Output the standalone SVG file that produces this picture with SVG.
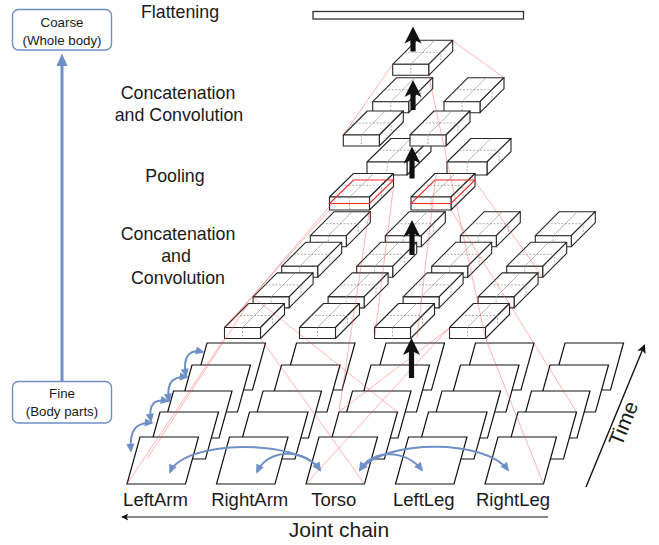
<svg xmlns="http://www.w3.org/2000/svg" xmlns:xlink="http://www.w3.org/1999/xlink" width="659" height="545" viewBox="0 0 659 545">
  <style>
    text { font-family: "Liberation Sans", Arial, sans-serif; fill: #1a1a1a; }
    .fr { fill: #fff; stroke: #111; stroke-width: 1.2; stroke-linejoin: miter; }
    .bx { fill: #fff; stroke: #262626; stroke-width: 1.1; stroke-linejoin: round; }
    .in { fill: none; stroke: #9a9a9a; stroke-width: 0.7; }
    .dn { fill: none; stroke: #8a8a8a; stroke-width: 0.7; stroke-dasharray: 2 1.5; }
    .rs { fill: none; stroke: #ee2a2a; stroke-width: 1.1; }
    .rl { fill: none; stroke: #ff4a4a; stroke-width: 0.7; opacity: 0.6; }
    .bl { fill: none; stroke: #6f90c6; stroke-width: 2; }
    .ba { fill: #111; }
    .lbl { font-size: 18.5px; text-anchor: middle; }
    .ttl { font-size: 17.8px; text-anchor: middle; }
    .sm { font-size: 13.3px; text-anchor: middle; }
    .rbox { fill: #fff; stroke: #6f90c6; stroke-width: 1.4; }
  </style>
  <defs>
    <!-- one time-slice of a body part -->
    <path id="fr" class="fr" d="M0,0 h58.5 l-13,47 h-58.5 z"/>
    <!-- convolution feature block -->
    <g id="cb">
      <path class="bx" d="M0,0 L36,0 L60,-24 L24,-24 Z"/>
      <path class="bx" d="M36,0 L60,-24 L60,-13 L36,11 Z"/>
      <rect class="bx" x="0" y="0" width="36" height="11"/>
      <path class="in" d="M18,0 L42,-24"/>
      <path class="dn" d="M12,-12 L48,-12 V-1 M18,0 V11"/>
    </g>
    <!-- pooling feature block -->
    <g id="pb">
      <path class="bx" d="M0,0 L40,0 L64,-23.5 L24,-23.5 Z"/>
      <path class="bx" d="M40,0 L64,-23.5 L64,-10.5 L40,13 Z"/>
      <rect class="bx" x="0" y="0" width="40" height="13"/>
      <path class="in" d="M20,0 L44,-23.5"/>
      <path class="dn" d="M12,-11.75 L52,-11.75 V1.25 M20,0 V13"/>
    </g>
    <!-- pooled slice outline -->
    <path id="slice" class="rs" d="M0,6.5 L40,6.5 L64,-17 L24,-17 Z"/>
    <marker id="bh" viewBox="0 0 10 10" refX="8" refY="5" markerWidth="10" markerHeight="9" markerUnits="userSpaceOnUse" orient="auto-start-reverse">
      <path d="M0,0.5 L10,5 L0,9.5 z" fill="#6f90c6"/>
    </marker>
    <marker id="kh" viewBox="0 0 10 10" refX="9" refY="5" markerWidth="11" markerHeight="9" markerUnits="userSpaceOnUse" orient="auto">
      <path d="M0,0 L10,5 L0,10 L2.5,5 z" fill="#111"/>
    </marker>
    <marker id="kh2" viewBox="0 0 10 10" refX="9" refY="5" markerWidth="9" markerHeight="7" markerUnits="userSpaceOnUse" orient="auto">
      <path d="M0,0 L10,5 L0,10 L2.5,5 z" fill="#111"/>
    </marker>
  </defs>

  <!-- scale axis: fine to coarse -->
  <g id="scale-axis">
    <line x1="62" y1="381.5" x2="62" y2="64" stroke="#6f90c6" stroke-width="3"/>
    <polygon points="62,53.5 56.5,66 67.5,66" fill="#6f90c6"/>
  </g>
  <g id="coarse">
    <rect class="rbox" x="12.5" y="9.5" width="99" height="40.5" rx="6"/>
    <text class="sm" x="62" y="27">Coarse</text>
    <text class="sm" x="62" y="45">(Whole body)</text>
  </g>
  <g id="fine">
    <rect class="rbox" x="12.5" y="381.5" width="99" height="41.5" rx="6"/>
    <text class="sm" x="62" y="398">Fine</text>
    <text class="sm" x="62" y="416">(Body parts)</text>
  </g>

  <!-- layer captions -->
  <g id="captions">
    <text class="ttl" x="180" y="18">Flattening</text>
    <text class="ttl" x="178" y="98.5">Concatenation</text>
    <text class="ttl" x="179" y="120.5">and Convolution</text>
    <text class="ttl" x="175" y="182">Pooling</text>
    <text class="ttl" x="178" y="240">Concatenation</text>
    <text class="ttl" x="176" y="262">and</text>
    <text class="ttl" x="178" y="283.5">Convolution</text>
  </g>

  <!-- input: body parts x time -->
  <g id="input-t4">
    <g id="la-t4"><use href="#fr" x="207" y="343"/></g>
    <g id="ra-t4"><use href="#fr" x="296.5" y="343"/></g>
    <g id="to-t4"><use href="#fr" x="386" y="343"/></g>
    <g id="ll-t4"><use href="#fr" x="475.5" y="343"/></g>
    <g id="rl-t4"><use href="#fr" x="565" y="343"/></g>
  </g>
  <g id="input-t3">
    <g id="la-t3"><use href="#fr" x="192" y="365"/></g>
    <g id="ra-t3"><use href="#fr" x="281.5" y="365"/></g>
    <g id="to-t3"><use href="#fr" x="371" y="365"/></g>
    <g id="ll-t3"><use href="#fr" x="460.5" y="365"/></g>
    <g id="rl-t3"><use href="#fr" x="550" y="365"/></g>
  </g>
  <g id="input-t2">
    <g id="la-t2"><use href="#fr" x="173.5" y="391"/></g>
    <g id="ra-t2"><use href="#fr" x="263" y="391"/></g>
    <g id="to-t2"><use href="#fr" x="352.5" y="391"/></g>
    <g id="ll-t2"><use href="#fr" x="442" y="391"/></g>
    <g id="rl-t2"><use href="#fr" x="531.5" y="391"/></g>
  </g>
  <g id="input-t1">
    <g id="la-t1"><use href="#fr" x="160" y="412"/></g>
    <g id="ra-t1"><use href="#fr" x="249.5" y="412"/></g>
    <g id="to-t1"><use href="#fr" x="339" y="412"/></g>
    <g id="ll-t1"><use href="#fr" x="428.5" y="412"/></g>
    <g id="rl-t1"><use href="#fr" x="518" y="412"/></g>
  </g>
  <g id="input-t0">
    <g id="la-t0"><use href="#fr" x="140" y="437"/></g>
    <g id="ra-t0"><use href="#fr" x="229.5" y="437"/></g>
    <g id="to-t0"><use href="#fr" x="319" y="437"/></g>
    <g id="ll-t0"><use href="#fr" x="408.5" y="437"/></g>
    <g id="rl-t0"><use href="#fr" x="498" y="437"/></g>
  </g>

  <!-- first convolution layer -->
  <g id="conv1">
    <g id="c1-a3"><use href="#cb" x="310.3" y="235.7"/></g>
    <g id="c1-b3"><use href="#cb" x="385.3" y="235.7"/></g>
    <g id="c1-c3"><use href="#cb" x="460.3" y="235.7"/></g>
    <g id="c1-d3"><use href="#cb" x="535.3" y="235.7"/></g>
    <g id="c1-a2"><use href="#cb" x="281.7" y="266.3"/></g>
    <g id="c1-b2"><use href="#cb" x="356.7" y="266.3"/></g>
    <g id="c1-c2"><use href="#cb" x="431.7" y="266.3"/></g>
    <g id="c1-d2"><use href="#cb" x="506.7" y="266.3"/></g>
    <g id="c1-a1"><use href="#cb" x="253.1" y="296.9"/></g>
    <g id="c1-b1"><use href="#cb" x="328.1" y="296.9"/></g>
    <g id="c1-c1"><use href="#cb" x="403.1" y="296.9"/></g>
    <g id="c1-d1"><use href="#cb" x="478.1" y="296.9"/></g>
    <g id="c1-a0"><use href="#cb" x="224.5" y="327.5"/></g>
    <g id="c1-b0"><use href="#cb" x="299.5" y="327.5"/></g>
    <g id="c1-c0"><use href="#cb" x="374.5" y="327.5"/></g>
    <g id="c1-d0"><use href="#cb" x="449.5" y="327.5"/></g>
  </g>

  <!-- pooling layer -->
  <g id="pool">
    <g id="p-a1"><use href="#pb" x="367" y="162"/></g>
    <g id="p-b1"><use href="#pb" x="447" y="162"/></g>
    <g id="p-a0"><use href="#pb" x="329.5" y="197"/><use href="#slice" x="329.5" y="197"/></g>
    <g id="p-b0"><use href="#pb" x="411" y="197"/><use href="#slice" x="411" y="197"/></g>
  </g>

  <!-- second convolution layer -->
  <g id="conv2">
    <g id="c2-a1"><use href="#cb" x="372.7" y="101.7"/></g>
    <g id="c2-b1"><use href="#cb" x="444" y="101.7"/></g>
    <g id="c2-a0"><use href="#cb" x="343.3" y="135"/></g>
    <g id="c2-b0"><use href="#cb" x="410" y="135"/></g>
  </g>

  <!-- merged block and flattened vector -->
  <g id="merged"><use href="#cb" x="392.7" y="64.3"/></g>
  <g id="flat">
    <rect x="313" y="11.5" width="210.5" height="7.5" fill="#fff" stroke="#333" stroke-width="1.3"/>
  </g>

  <!-- part and time labels -->
  <g id="labels">
    <text class="lbl" x="155.5" y="505.5">LeftArm</text>
    <text class="lbl" x="249.7" y="505.5">RightArm</text>
    <text class="lbl" x="333.8" y="505.5">Torso</text>
    <text class="lbl" x="423.8" y="505.5">LeftLeg</text>
    <text class="lbl" x="513" y="505.5">RightLeg</text>
    <text x="339" y="537" font-size="21" text-anchor="middle">Joint chain</text>
    <text x="625" y="424" font-size="21" text-anchor="middle" dominant-baseline="middle" transform="rotate(-68 625 424)">Time</text>
  </g>

  <g id="connectors">
    <!-- receptive field lines -->
    <g id="fields">
      <path class="rl" d="M224.5,338.5 L127,484"/>
      <path class="rl" d="M248.5,303.5 L147,459"/>
      <path class="rl" d="M260.5,338.5 L364.5,484"/>
      <path class="rl" d="M449.5,327.5 L306,484"/>
      <path class="rl" d="M449.5,328 L339,412"/>
      <path class="rl" d="M485.5,338.5 L543.5,484"/>
      <path class="rl" d="M253,297 L397.5,412"/>
      <path class="rl" d="M329.5,210 L224.5,327.5"/>
      <path class="rl" d="M331.5,204 L226.5,327"/>
      <path class="rl" d="M393.5,186.5 L374.5,338.5"/>
      <path class="rl" d="M369.5,210 L339,412"/>
      <path class="rl" d="M470,174 L542.7,277.3"/>
      <path class="rl" d="M451,210 L576.5,412"/>
      <path class="rl" d="M428.7,75.3 L485.5,338.5"/>
      <path class="rl" d="M436,175 L417,338"/>
      <path class="rl" d="M392.7,64.3 L343.3,135"/>
      <path class="rl" d="M452.7,40.7 L504,77.7"/>
    </g>
    <!-- neighbour links along time -->
    <g id="time-links">
      <path class="bl" d="M131,451 C129,429 137,422 152,423" marker-start="url(#bh)" marker-end="url(#bh)"/>
      <path class="bl" d="M151,421 C148,403 155,399 168,401" marker-start="url(#bh)" marker-end="url(#bh)"/>
      <path class="bl" d="M169,401 C166,382 173,376 187,377" marker-start="url(#bh)" marker-end="url(#bh)"/>
      <path class="bl" d="M186,376 C182,356 190,349 203,352" marker-start="url(#bh)" marker-end="url(#bh)"/>
    </g>
    <!-- neighbour links along the joint chain -->
    <g id="chain-links">
      <path class="bl" d="M170,472 C185,439 300,439 320,470" marker-start="url(#bh)" marker-end="url(#bh)"/>
      <path class="bl" d="M257,472 C268,448 305,448 320,470" marker-start="url(#bh)" marker-end="url(#bh)"/>
      <path class="bl" d="M360,470 C372,449 405,449 422,470" marker-start="url(#bh)" marker-end="url(#bh)"/>
      <path class="bl" d="M360,470 C385,439 485,439 508,470" marker-start="url(#bh)" marker-end="url(#bh)"/>
    </g>
    <!-- data flow between layers -->
    <g id="flow">
      <path class="ba" d="M411.5,338 L420,355 L414.1,352 L414.1,378 L408.9,378 L408.9,352 L403,355 Z"/>
      <path class="ba" d="M412,220 L420.5,237 L414.6,234 L414.6,255 L409.4,255 L409.4,234 L403.5,237 Z"/>
      <path class="ba" d="M412,146.5 L420.5,163.5 L414.6,160.5 L414.6,178.5 L409.4,178.5 L409.4,160.5 L403.5,163.5 Z"/>
      <path class="ba" d="M413,80 L421.5,97 L415.6,94 L415.6,110 L410.4,110 L410.4,94 L404.5,97 Z"/>
      <path class="ba" d="M413,26.5 L421.5,43.5 L415.6,40.5 L415.6,51.5 L410.4,51.5 L410.4,40.5 L404.5,43.5 Z"/>
    </g>
    <!-- axes -->
    <g id="axes">
      <line x1="586" y1="487" x2="644.5" y2="345" stroke="#111" stroke-width="1.4" marker-end="url(#kh)"/>
      <line x1="548" y1="517" x2="122" y2="517" stroke="#111" stroke-width="1.2" marker-end="url(#kh2)"/>
    </g>
  </g>
</svg>
